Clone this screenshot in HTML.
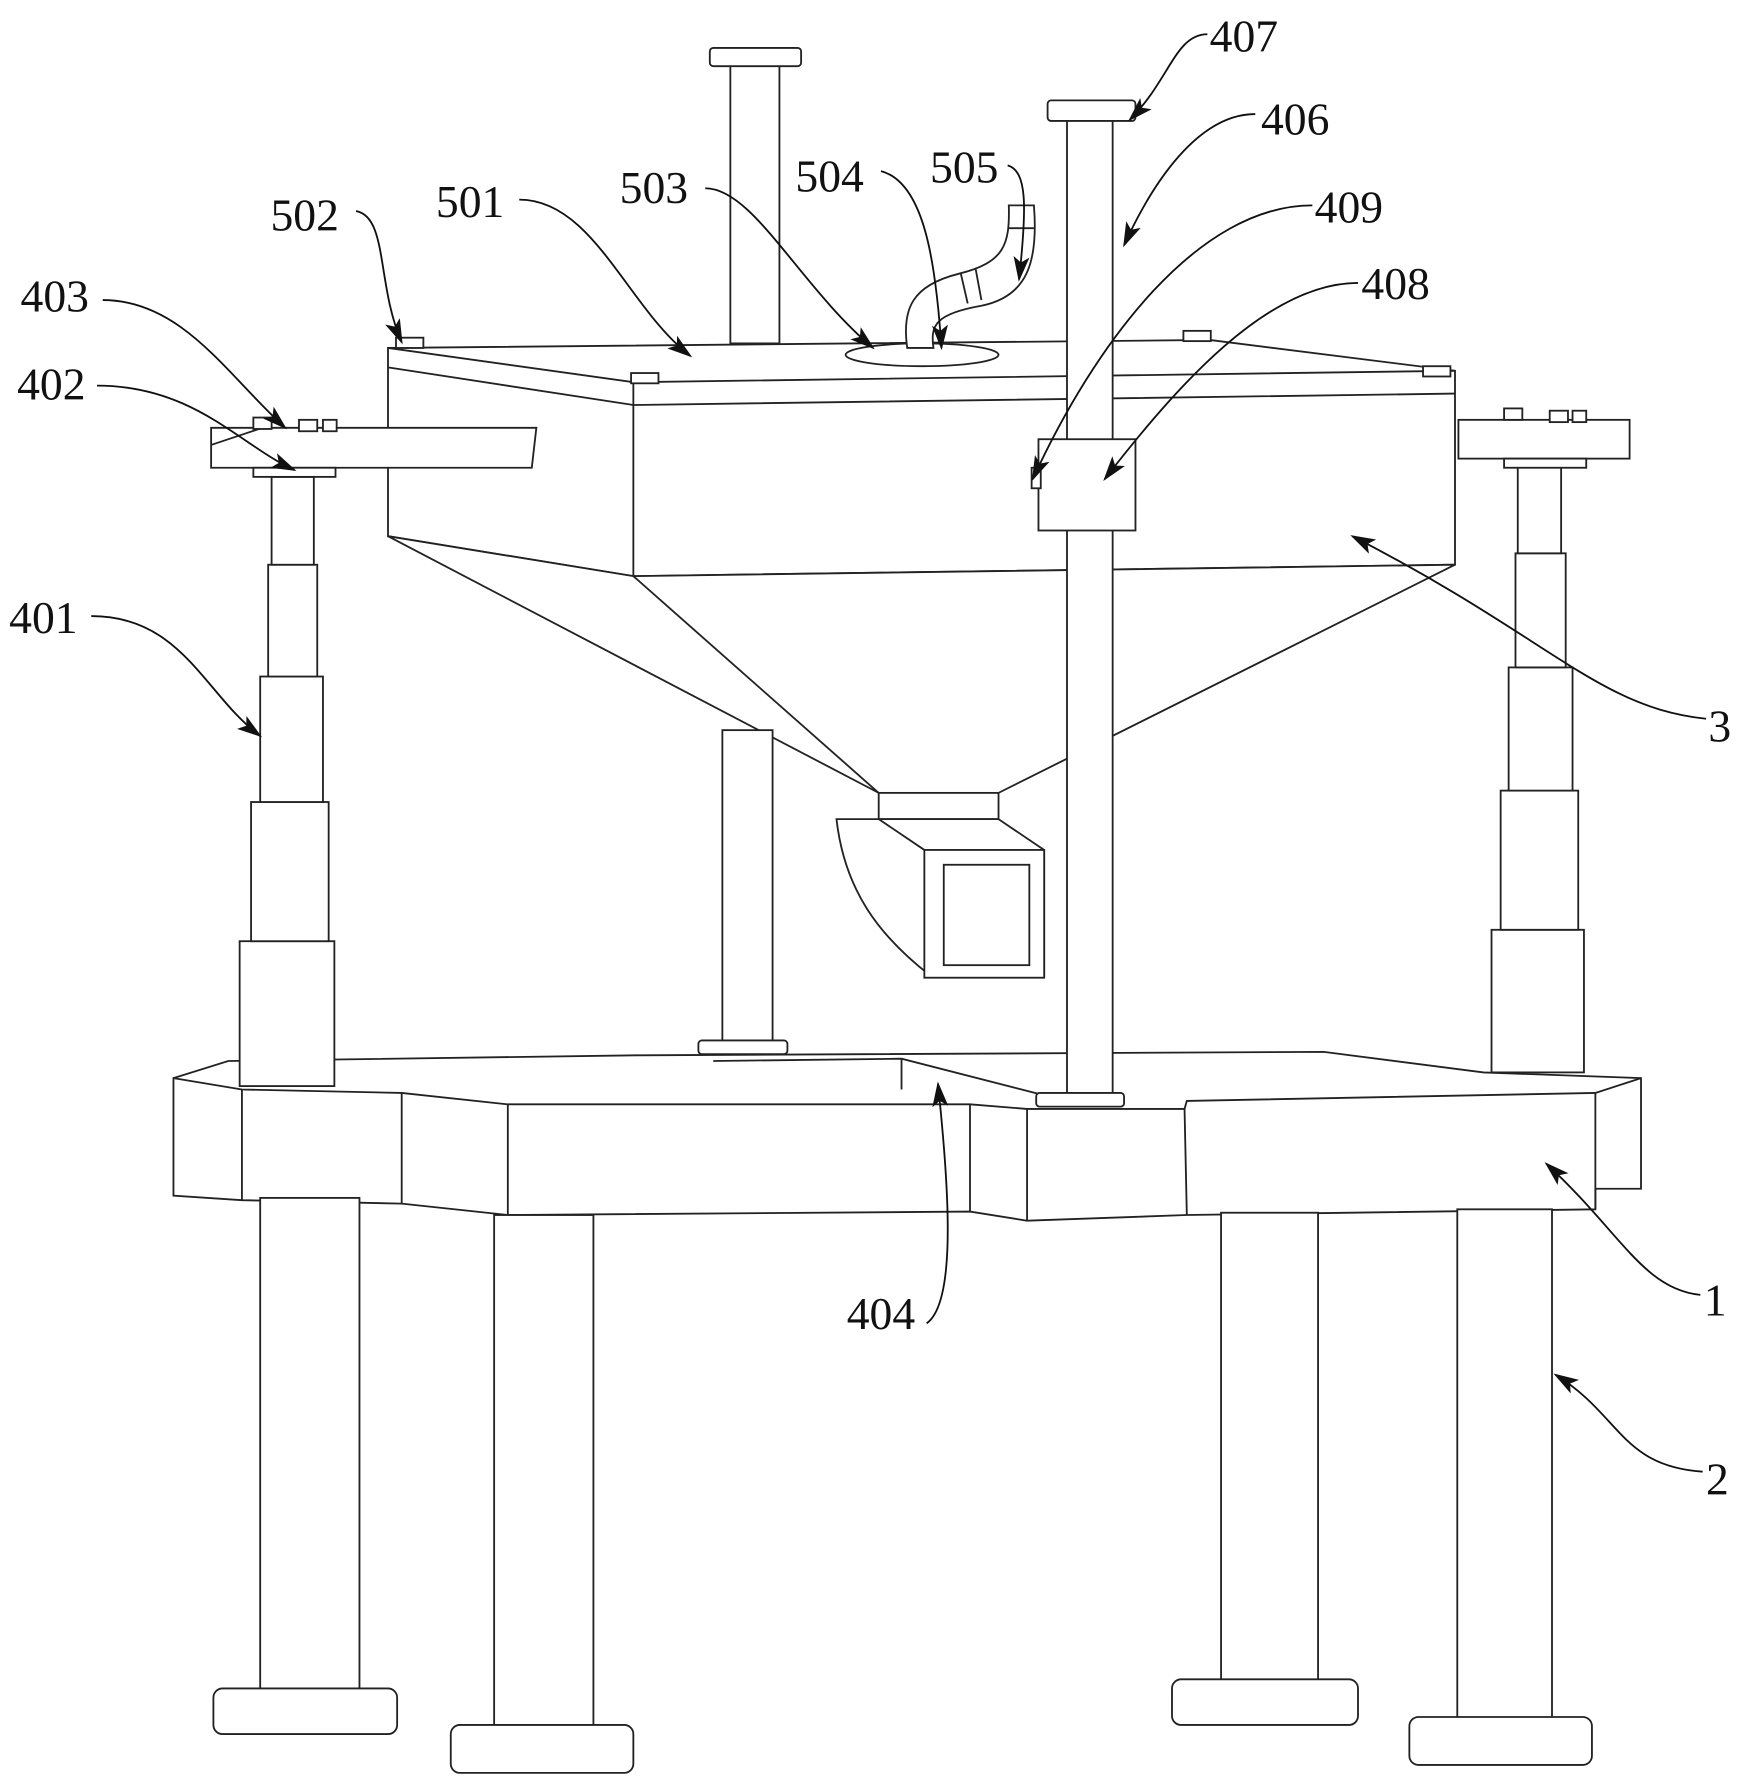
<!DOCTYPE html>
<html><head><meta charset="utf-8"><style>
html,body{margin:0;padding:0;background:#fff;}
svg{display:block;}
text{font-family:"Liberation Serif",serif;font-size:40px;fill:#111;}
</style></head><body>
<svg width="1746" height="1790" viewBox="0 0 1530 1569" preserveAspectRatio="none" xmlns="http://www.w3.org/2000/svg">
<defs>
<marker id="b" markerWidth="22" markerHeight="14" refX="20" refY="7" orient="auto" markerUnits="userSpaceOnUse" viewBox="0 0 22 14"><path d="M0,0 L22,7 L0,14 L5,7 z" fill="#111"/></marker></defs>
<g fill="#fff" stroke="#222" stroke-width="1.6">
<rect x="640" y="56" width="43" height="245"/>
<rect x="622" y="42" width="80" height="16" rx="3"/>
<polygon points="340,305 1060,298 1275,325 1275,495 555,505 340,470"/>
<polyline points="340,322 555,355 1275,345" fill="none"/>
<line x1="555" y1="335" x2="555" y2="505"/>
<polyline points="340,305 555,335 1275,325" fill="none"/>
<polygon points="340,470 555,505 1275,495 875,695 770,695" />
<line x1="555" y1="505" x2="770" y2="695"/>
<ellipse cx="808" cy="311" rx="67" ry="10"/>
<path d="M795,305 C790,270 800,250 840,240 C880,230 885,215 884,180 L906,180 C910,230 900,260 860,268 C820,275 815,285 818,305 z"/>
<path d="M842,240 L848,266 M855,236 L860,263 M884,200 L906,200" fill="none"/>
<rect x="347" y="296" width="24" height="9"/><rect x="553" y="327" width="24" height="9"/><rect x="1037" y="290" width="24" height="9"/><rect x="1247" y="321" width="24" height="9"/>
<rect x="633" y="640" width="44" height="275"/>
<rect x="612" y="912" width="78" height="12" rx="3"/>
<rect x="770" y="695" width="105" height="23"/>
<path d="M733,718 L875,718 L915,745 L915,855 L815,855 C770,820 740,780 733,718 z"/>
<line x1="770" y1="718" x2="810" y2="745"/>
<rect x="810" y="745" width="105" height="112"/>
<rect x="827" y="758" width="75" height="88"/>
<polygon points="152,945 200,930 560,925 1160,922 1300,940 1438,945 1438,1042 1398,1042 1398,1060 1040,1065 900,1070 850,1062 445,1065 352,1055 212,1052 152,1048"/>
<polyline points="152,945 212,955 352,958 445,968 850,968 900,972 1038,972 1040,965 1398,958 1438,945" fill="none"/>
<line x1="212" y1="955" x2="212" y2="1052"/><line x1="352" y1="958" x2="352" y2="1055"/><line x1="445" y1="968" x2="445" y2="1065"/><line x1="850" y1="968" x2="850" y2="1062"/><line x1="900" y1="972" x2="900" y2="1070"/><line x1="1038" y1="972" x2="1040" y2="1065"/><line x1="1398" y1="958" x2="1398" y2="1060"/>
<polyline points="625,930 790,928 915,960" fill="none"/><line x1="790" y1="928" x2="790" y2="955"/>
<rect x="228" y="1050" width="87" height="435"/><rect x="187" y="1480" width="161" height="40" rx="8"/>
<rect x="433" y="1065" width="87" height="450"/><rect x="395" y="1512" width="160" height="42" rx="8"/>
<rect x="1070" y="1063" width="85" height="415"/><rect x="1027" y="1472" width="163" height="40" rx="8"/>
<rect x="1277" y="1060" width="83" height="448"/><rect x="1235" y="1505" width="160" height="42" rx="8"/>
<rect x="935" y="105" width="40" height="855"/>
<rect x="918" y="88" width="77" height="18" rx="3"/>
<rect x="910" y="385" width="85" height="80"/>
<rect x="904" y="410" width="8" height="18"/>
<rect x="908" y="958" width="77" height="12" rx="3"/>
<rect x="210" y="825" width="83" height="127"/><rect x="220" y="703" width="68" height="122"/><rect x="228" y="593" width="55" height="110"/><rect x="235" y="495" width="43" height="98"/><rect x="238" y="418" width="37" height="77"/>
<polygon points="185,375 470,375 466,410 185,410"/>
<line x1="185" y1="390" x2="230" y2="375"/>
<rect x="222" y="366" width="16" height="10"/><rect x="262" y="368" width="16" height="10"/><rect x="283" y="368" width="12" height="10"/>
<rect x="222" y="410" width="72" height="8"/>
<rect x="1307" y="815" width="81" height="125"/><rect x="1315" y="693" width="68" height="122"/><rect x="1322" y="585" width="56" height="108"/><rect x="1328" y="485" width="44" height="100"/><rect x="1330" y="408" width="38" height="77"/>
<rect x="1278" y="368" width="150" height="34"/>
<rect x="1318" y="358" width="16" height="10"/><rect x="1358" y="360" width="16" height="10"/><rect x="1378" y="360" width="12" height="10"/>
<rect x="1318" y="402" width="72" height="8"/>
</g>
<g fill="none" stroke="#111" stroke-width="1.6" marker-end="url(#b)">
<path d="M1058,30 C1030,30 1025,70 990,105"/>
<path d="M1100,100 C1050,100 1010,160 985,215"/>
<path d="M1150,180 C1050,180 960,300 905,420"/>
<path d="M1190,248 C1110,248 1030,340 968,420"/>
<path d="M883,145 C900,150 900,180 893,245"/>
<path d="M772,150 C810,160 820,230 825,305"/>
<path d="M618,165 C660,165 700,250 765,305"/>
<path d="M455,175 C520,175 550,270 605,312"/>
<path d="M312,185 C340,190 330,250 352,300"/>
<path d="M90,263 C160,263 200,330 250,375"/>
<path d="M85,338 C170,338 210,390 258,412"/>
<path d="M80,540 C160,540 180,610 228,645"/>
<path d="M1495,630 C1400,620 1360,560 1185,470"/>
<path d="M1490,1135 C1440,1130 1420,1080 1355,1020"/>
<path d="M1492,1290 C1420,1285 1420,1240 1363,1205"/>
<path d="M812,1160 C840,1140 830,1030 822,950"/>
</g>
<text x="1060" y="45">407</text>
<text x="1105" y="118">406</text>
<text x="1152" y="195">409</text>
<text x="1193" y="262">408</text>
<text x="815" y="160">505</text>
<text x="697" y="168">504</text>
<text x="543" y="178">503</text>
<text x="382" y="190">501</text>
<text x="237" y="202">502</text>
<text x="18" y="273">403</text>
<text x="15" y="350">402</text>
<text x="8" y="555">401</text>
<text x="1497" y="650">3</text>
<text x="1493" y="1153">1</text>
<text x="1495" y="1310">2</text>
<text x="742" y="1165">404</text>
</svg>
</body></html>
